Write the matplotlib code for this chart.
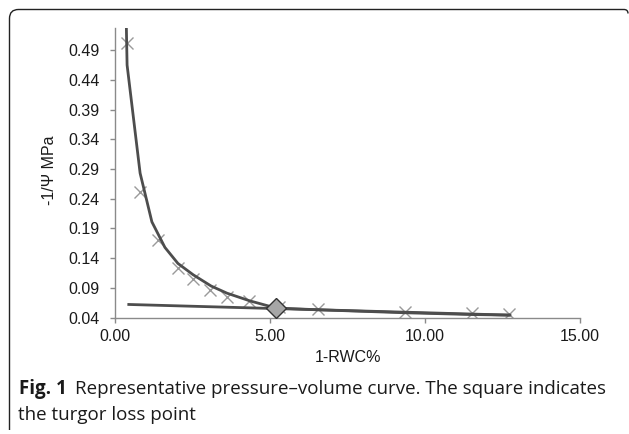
import matplotlib
matplotlib.use("Agg")
import matplotlib.pyplot as plt
from matplotlib.path import Path
from matplotlib.patches import PathPatch
import numpy as np

# Observed points (crosses)
x_obs = [0.39, 0.81, 1.39, 2.04, 2.52, 3.06, 3.61, 4.32, 5.30, 6.55, 9.37, 11.52, 12.71]
y_obs = [0.502, 0.252, 0.170, 0.124, 0.104, 0.087, 0.075, 0.067, 0.058, 0.054, 0.050, 0.047, 0.046]

# Fitted curve
x_fit = [0.34, 0.39, 0.81, 1.19, 1.61, 2.03, 2.52, 3.10, 3.61, 4.35, 5.19, 6.55, 9.35, 11.52, 12.74]
y_fit = [0.600, 0.465, 0.283, 0.201, 0.158, 0.131, 0.112, 0.093, 0.081, 0.068, 0.056, 0.053, 0.048, 0.045, 0.044]

# Linear (osmotic) line
x_lin = [0.40, 12.74]
y_lin = [0.062, 0.044]

# Turgor loss point
x_tlp = [5.19]
y_tlp = [0.056]

x_ticks = [0, 5, 10, 15]
y_ticks = [0.04, 0.09, 0.14, 0.19, 0.24, 0.29, 0.34, 0.39, 0.44, 0.49]

W, H = 629, 434
fig = plt.figure(figsize=(W / 100, H / 100), dpi=100)

def fx(px):
    return px / W

def fy(py):
    return 1 - py / H

ax = fig.add_axes([fx(115), fy(317.5), fx(580) - fx(115), fy(28) - fy(317.5)])
ax.set_xlim(0, 15)
ax.set_ylim(0.04, 0.04 + (317.5 - 28) / 594.0)

line_col = "#4d4d4d"
ax.plot(x_obs, y_obs, linestyle="none", marker="x", markersize=9, markeredgewidth=1.0,
        color="#9a9a9a", zorder=2)
ax.plot(x_fit, y_fit, color=line_col, lw=2.0, zorder=3, solid_joinstyle="round")
ax.plot(x_lin, y_lin, color=line_col, lw=2.0, zorder=3, solid_capstyle="butt")
ax.plot(x_tlp, y_tlp, linestyle="none", marker="D", markersize=10, markerfacecolor="#a6a6a6",
        markeredgecolor="#333333", markeredgewidth=1.0, zorder=4)

for s in ["top", "right"]:
    ax.spines[s].set_visible(False)
for s in ["left", "bottom"]:
    ax.spines[s].set_color("#8a8a8a")
    ax.spines[s].set_linewidth(1.0)

ax.set_xticks(x_ticks)
ax.set_xticklabels([f"{v:.2f}" for v in x_ticks])
ax.set_yticks(y_ticks)
ax.set_yticklabels([f"{v:.2f}" for v in y_ticks])
tick_font = "Liberation Sans"
ax.tick_params(axis="both", direction="out", length=3.6, width=1.0, color="#8a8a8a",
               labelsize=11.5, labelcolor="#1a1a1a")
ax.tick_params(axis="y", pad=7.5)
ax.tick_params(axis="x", pad=5)
for lab in ax.get_xticklabels() + ax.get_yticklabels():
    lab.set_family(tick_font)

fig.text(fx(347.5), fy(358), "1-RWC%", ha="center", va="center", fontsize=11.5,
         family=tick_font, color="#1a1a1a")
fig.text(fx(50), fy(170), "-1/\u03a8 MPa", ha="center", va="center", rotation=90,
         fontsize=11.5, family=tick_font, color="#1a1a1a")

# Caption
cap_font = "Open Sans"
cap_size = 13.5
t1 = fig.text(fx(19), fy(394), "Fig. 1", ha="left", va="baseline", fontsize=cap_size,
              family=cap_font, fontweight="bold", color="#1a1a1a")
fig.canvas.draw()
bb = t1.get_window_extent()
fig.text((bb.x1 + 8) / W, fy(394), "Representative pressure\u2013volume curve. The square indicates",
         ha="left", va="baseline", fontsize=cap_size, family=cap_font, color="#1a1a1a")
fig.text(fx(18), fy(420), "the turgor loss point", ha="left", va="baseline", fontsize=cap_size,
         family=cap_font, color="#1a1a1a")

# Rounded frame (partially visible)
r = 9
x0, y0 = 9.5, 9.5
verts = [
    (x0, 430),
    (x0, y0 + r),
    (x0, y0),
    (x0 + r, y0),
    (624, y0),
    (628, y0),
    (628, y0 + 4),
]
codes = [Path.MOVETO, Path.LINETO, Path.CURVE3, Path.CURVE3, Path.LINETO, Path.CURVE3, Path.CURVE3]
verts_fig = [(fx(a), fy(b)) for a, b in verts]
patch = PathPatch(Path(verts_fig, codes), transform=fig.transFigure, fill=False,
                  edgecolor="#222222", lw=1.0)
fig.patches.append(patch)

fig.savefig("out.png", dpi=100)
